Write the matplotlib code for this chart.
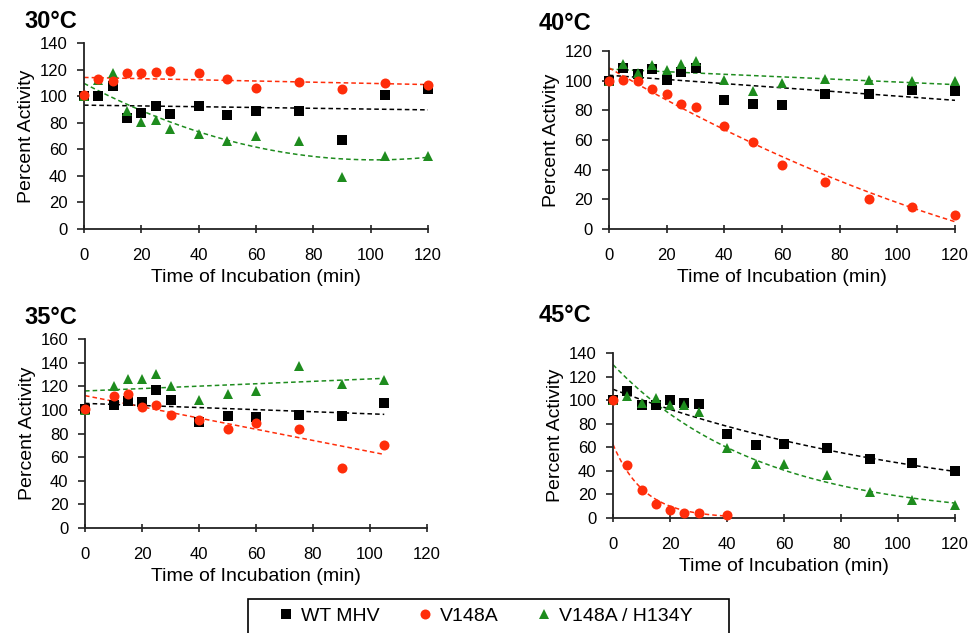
import numpy as np
import matplotlib
matplotlib.use("Agg")
import matplotlib.pyplot as plt
from matplotlib.lines import Line2D
from matplotlib.patches import Rectangle

plt.rcParams['font.family'] = ['Liberation Sans', 'DejaVu Sans']

series_names = ["WT MHV", "V148A", "V148A / H134Y"]
colors = ["#000000", "#ff2d0a", "#1e8c1e"]
markers = ["s", "o", "^"]

# ---- 30 °C ----
t30 = [0, 5, 10, 15, 20, 25, 30, 40, 50, 60, 75, 90, 105, 120]
wt30 = [100, 100, 108, 83.5, 87.3, 92.3, 86.5, 92.3, 85.5, 89, 89, 66.7, 100.6, 105.4]
v30 = [100.6, 112.9, 111.6, 117.4, 117.4, 118.2, 119.2, 117.4, 112.9, 106.1, 110.6, 105.4, 109.9, 108.6]
vh30 = [100, 112, 117.4, 88.6, 80.5, 81.8, 75.3, 71.5, 66, 69.7, 66, 39.1, 54.7, 54.7]

# ---- 40 °C ----
t40 = [0, 5, 10, 15, 20, 25, 30, 40, 50, 60, 75, 90, 105, 120]
wt40 = [99.8, 108.6, 104.3, 107.7, 100.7, 105.9, 108.6, 87.3, 84.2, 83.5, 91.3, 91.3, 94, 93.1]
v40 = [100, 100.7, 99.8, 94.7, 91.3, 84.2, 82.4, 69.6, 58.9, 43.2, 32, 20.1, 14.6, 9.4]
vh40 = [100, 111.5, 105.4, 110.4, 107.5, 111.5, 113.3, 100.7, 93.1, 98.5, 101, 100.7, 99.6, 99.6]

# ---- 35 °C ----
t35 = [0, 10, 15, 20, 25, 30, 40, 50, 60, 75, 90, 105]
wt35 = [101, 104.4, 107.2, 106.4, 117.1, 108.6, 89.7, 95.1, 93.7, 95.9, 95.1, 105.8]
v35 = [101, 111.5, 113.4, 102.4, 104.4, 95.9, 91.1, 84.1, 88.9, 84.1, 50.8, 70.5]
vh35 = [100, 119.9, 126.4, 126.4, 130.4, 119.9, 108.1, 113.7, 115.7, 137.4, 122.2, 125]

# ---- 45 °C ----
t45 = [0, 5, 10, 15, 20, 25, 30, 40, 50, 60, 75, 90, 105, 120]
wt45 = [99.8, 107.7, 96.2, 96.2, 100.4, 97.9, 97, 71.6, 61.7, 63.1, 59.4, 49.8, 46.9, 39.6]
t45_v = [0, 5, 10, 15, 20, 25, 30, 40]
v45 = [99.8, 44.7, 23.5, 12.2, 6.5, 4.2, 4.2, 2.8]
vh45 = [100, 103.2, 97.9, 102.1, 95.6, 96.2, 89.9, 59.4, 46.1, 45.5, 36.2, 22.1, 15, 11.3]

xticks = [0, 20, 40, 60, 80, 100, 120]

W, H = 975, 633
fig = plt.figure(figsize=(W / 100, H / 100), dpi=100)


def ax_at(l, r, b, t):
    return fig.add_axes([l / W, 1 - b / H, (r - l) / W, (b - t) / H])


def trend(ax, x, y, kind, color):
    x = np.asarray(x, float)
    y = np.asarray(y, float)
    xs = np.linspace(x.min(), x.max(), 200)
    if kind == "lin":
        p = np.polyfit(x, y, 1)
        ys = np.polyval(p, xs)
    elif kind == "poly":
        p = np.polyfit(x, y, 2)
        ys = np.polyval(p, xs)
    else:
        p = np.polyfit(x, np.log(y), 1)
        ys = np.exp(np.polyval(p, xs))
    ax.plot(xs, ys, linestyle=(0, (3, 2)), color=color, lw=1.1, zorder=2)


def panel(ax, data, kinds, ymax, ystep, title, tpos):
    order = [0, 2, 1]
    for i in order:
        x, y = data[i]
        trend(ax, x, y, kinds[i], colors[i])
    for i in order:
        x, y = data[i]
        ax.plot(x, y, linestyle="none", marker=markers[i], color=colors[i],
                markersize=7.2, markeredgewidth=0, zorder=3 + order.index(i),
                clip_on=False)
    ax.set_xlim(0, 120)
    ax.set_ylim(0, ymax)
    ax.set_xticks(xticks)
    ax.set_yticks(np.arange(0, ymax + 1, ystep))
    for s in ["top", "right"]:
        ax.spines[s].set_visible(False)
    for s in ["left", "bottom"]:
        ax.spines[s].set_linewidth(1.3)
        ax.spines[s].set_color("#222222")
    ax.tick_params(axis="both", labelsize=12, width=1.2, color="#222222")
    ax.tick_params(axis="y", length=5, pad=7)
    ax.tick_params(axis="x", direction="inout", length=6, pad=11)
    ax.set_xlabel("Time of Incubation (min)", fontsize=14, labelpad=4)
    ax.set_ylabel("Percent Activity", fontsize=14, labelpad=3)
    fig.text(tpos[0] / W, 1 - tpos[1] / H, title, fontsize=17, fontweight="bold",
             ha="left", va="center")
    ax.patch.set_alpha(0)


a1 = ax_at(84, 428, 229, 43)
panel(a1, [(t30, wt30), (t30, v30), (t30, vh30)], ["lin", "lin", "poly"],
      140, 20, "30°C", (24, 21))

a2 = ax_at(609, 955, 229, 51)
panel(a2, [(t40, wt40), (t40, v40), (t40, vh40)], ["lin", "poly", "lin"],
      120, 20, "40°C", (539, 23))

a3 = ax_at(85, 427, 528, 339)
panel(a3, [(t35, wt35), (t35, v35), (t35, vh35)], ["lin", "lin", "lin"],
      160, 20, "35°C", (24, 318))

a4 = ax_at(613, 955, 518, 353)
panel(a4, [(t45, wt45), (t45_v, v45), (t45, vh45)], ["exp", "exp", "exp"],
      140, 20, "45°C", (539, 316))

# legend frame (extends past the bottom edge as in the original)
fig.patches.append(Rectangle((248 / W, 1 - 645 / H), (729 - 248) / W, (645 - 599) / H,
                             transform=fig.transFigure, fill=False,
                             edgecolor="#000000", linewidth=1.2))

handles = [Line2D([], [], linestyle="none", marker=markers[i], color=colors[i],
                  markersize=7.2, markeredgewidth=0) for i in range(3)]
leg = fig.legend(handles, series_names, loc="center", ncol=3,
                 bbox_to_anchor=(486 / W, 1 - 616 / H), fontsize=14,
                 frameon=False, handlelength=0.7, handletextpad=0.45,
                 columnspacing=1.95, borderpad=0, borderaxespad=0)

fig.savefig("out.png", dpi=100)
